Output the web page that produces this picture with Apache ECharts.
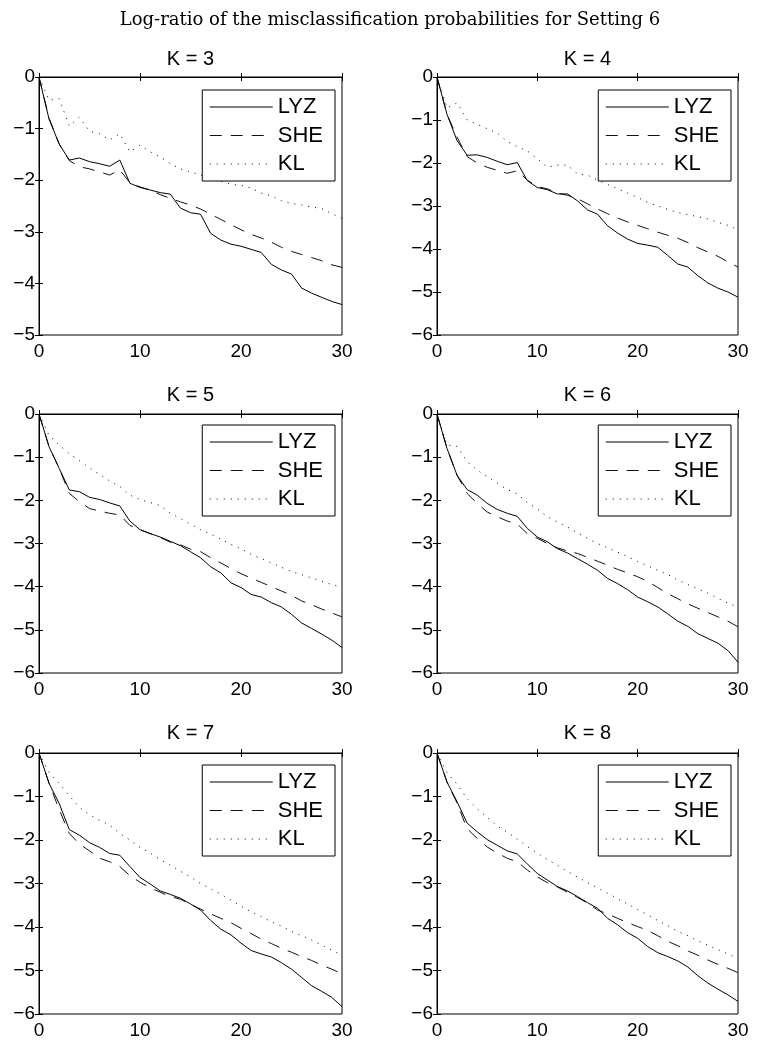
<!DOCTYPE html>
<html>
<head>
<meta charset="utf-8">
<script src="https://cdn.jsdelivr.net/npm/echarts@6/dist/echarts.min.js"></script>
<style>
html,body{margin:0;padding:0;background:#fff;}
#chart{width:762px;height:1049px;}
</style>
</head>
<body>
<div id="chart"></div>
<script>
// ---- data ----
const xs = [0,1,2,3,4,5,6,7,8,9,10,11,12,13,14,15,16,17,18,19,20,21,22,23,24,25,26,27,28,29,30];
const seriesNames = ['LYZ','SHE','KL'];
const kValues = [3,4,5,6,7,8];
const yMins = [-5,-6,-6,-6,-6,-6];
const xTicks = [0,10,20,30];

const lyz3 = [0,-0.82,-1.30,-1.61,-1.57,-1.64,-1.68,-1.73,-1.61,-2.06,-2.14,-2.19,-2.24,-2.27,-2.54,-2.63,-2.66,-3.03,-3.16,-3.24,-3.28,-3.34,-3.40,-3.63,-3.74,-3.82,-4.09,-4.19,-4.27,-4.35,-4.41];
const she3 = [0,-0.80,-1.30,-1.62,-1.74,-1.78,-1.84,-1.90,-1.80,-2.05,-2.13,-2.19,-2.28,-2.35,-2.42,-2.48,-2.56,-2.66,-2.76,-2.86,-2.96,-3.05,-3.12,-3.20,-3.30,-3.38,-3.44,-3.50,-3.56,-3.64,-3.69];
const kl3  = [0,-0.45,-0.42,-0.95,-0.78,-1.05,-1.10,-1.22,-1.10,-1.45,-1.32,-1.45,-1.55,-1.68,-1.78,-1.84,-1.90,-1.96,-2.02,-2.08,-2.10,-2.15,-2.25,-2.30,-2.40,-2.45,-2.48,-2.52,-2.55,-2.65,-2.74];

const lyz4 = [0,-0.87,-1.48,-1.82,-1.81,-1.87,-1.96,-2.04,-1.99,-2.41,-2.57,-2.62,-2.72,-2.72,-2.88,-3.09,-3.19,-3.46,-3.63,-3.77,-3.87,-3.91,-3.96,-4.15,-4.35,-4.42,-4.62,-4.79,-4.91,-5.00,-5.12];
const she4 = [0,-0.87,-1.40,-1.85,-2.00,-2.10,-2.17,-2.24,-2.18,-2.40,-2.55,-2.60,-2.70,-2.75,-2.83,-2.95,-3.07,-3.18,-3.28,-3.37,-3.45,-3.53,-3.61,-3.68,-3.75,-3.85,-3.97,-4.07,-4.17,-4.30,-4.42];
const kl4  = [0,-0.72,-0.60,-1.00,-1.10,-1.20,-1.30,-1.50,-1.62,-1.72,-1.90,-2.10,-2.05,-2.05,-2.25,-2.28,-2.40,-2.50,-2.60,-2.70,-2.80,-2.92,-3.00,-3.08,-3.15,-3.20,-3.25,-3.30,-3.38,-3.45,-3.55];

const lyz5 = [0,-0.76,-1.26,-1.76,-1.80,-1.93,-1.98,-2.06,-2.13,-2.48,-2.68,-2.77,-2.85,-2.95,-3.05,-3.19,-3.33,-3.54,-3.68,-3.91,-4.02,-4.18,-4.24,-4.37,-4.47,-4.64,-4.84,-4.97,-5.10,-5.24,-5.41];
const she5 = [0,-0.76,-1.26,-1.84,-2.03,-2.19,-2.25,-2.30,-2.34,-2.58,-2.68,-2.77,-2.86,-2.97,-3.03,-3.13,-3.19,-3.33,-3.45,-3.58,-3.70,-3.80,-3.90,-4.00,-4.10,-4.20,-4.33,-4.42,-4.52,-4.61,-4.70];
const kl5  = [0,-0.50,-0.72,-0.92,-1.08,-1.25,-1.40,-1.55,-1.68,-1.88,-1.98,-2.05,-2.12,-2.30,-2.42,-2.55,-2.68,-2.78,-2.90,-3.02,-3.12,-3.25,-3.35,-3.45,-3.55,-3.65,-3.72,-3.80,-3.88,-3.95,-4.02];

const lyz6 = [0,-0.80,-1.42,-1.75,-1.88,-2.07,-2.21,-2.30,-2.37,-2.65,-2.85,-2.96,-3.12,-3.22,-3.35,-3.48,-3.62,-3.81,-3.93,-4.07,-4.24,-4.35,-4.47,-4.63,-4.80,-4.92,-5.09,-5.20,-5.31,-5.48,-5.75];
const she6 = [0,-0.80,-1.42,-1.84,-2.07,-2.27,-2.38,-2.48,-2.55,-2.77,-2.88,-3.00,-3.10,-3.17,-3.23,-3.32,-3.41,-3.50,-3.60,-3.68,-3.77,-3.88,-4.02,-4.16,-4.28,-4.40,-4.50,-4.60,-4.70,-4.80,-4.93];
const kl6  = [0,-0.72,-0.75,-1.10,-1.30,-1.45,-1.60,-1.75,-1.85,-2.05,-2.20,-2.38,-2.50,-2.62,-2.75,-2.88,-3.00,-3.10,-3.20,-3.30,-3.42,-3.52,-3.62,-3.72,-3.85,-3.95,-4.05,-4.15,-4.27,-4.38,-4.48];

const lyz7 = [0,-0.70,-1.16,-1.76,-1.89,-2.06,-2.17,-2.31,-2.35,-2.61,-2.86,-3.01,-3.17,-3.25,-3.34,-3.47,-3.61,-3.85,-4.05,-4.18,-4.37,-4.54,-4.62,-4.69,-4.82,-4.97,-5.16,-5.35,-5.48,-5.62,-5.83];
const she7 = [0,-0.70,-1.30,-1.85,-2.09,-2.25,-2.42,-2.50,-2.61,-2.82,-2.97,-3.10,-3.20,-3.30,-3.36,-3.48,-3.59,-3.70,-3.80,-3.90,-4.03,-4.15,-4.28,-4.38,-4.49,-4.58,-4.68,-4.77,-4.88,-4.97,-5.08];
const kl7  = [0,-0.45,-0.70,-0.98,-1.25,-1.42,-1.55,-1.66,-1.85,-2.00,-2.17,-2.30,-2.45,-2.58,-2.72,-2.85,-3.00,-3.12,-3.25,-3.38,-3.52,-3.65,-3.76,-3.88,-3.98,-4.10,-4.20,-4.30,-4.42,-4.53,-4.65];

const lyz8 = [0,-0.67,-1.12,-1.61,-1.81,-1.99,-2.12,-2.25,-2.32,-2.55,-2.77,-2.92,-3.07,-3.17,-3.30,-3.44,-3.57,-3.80,-3.95,-4.13,-4.26,-4.45,-4.59,-4.68,-4.78,-4.92,-5.12,-5.29,-5.43,-5.56,-5.71];
const she8 = [0,-0.67,-1.15,-1.74,-1.96,-2.16,-2.30,-2.42,-2.50,-2.69,-2.85,-2.98,-3.08,-3.20,-3.32,-3.45,-3.61,-3.70,-3.80,-3.90,-3.99,-4.08,-4.20,-4.33,-4.43,-4.55,-4.65,-4.76,-4.86,-4.95,-5.05];
const kl8  = [0,-0.45,-0.72,-1.05,-1.28,-1.48,-1.68,-1.82,-1.98,-2.15,-2.30,-2.45,-2.58,-2.72,-2.85,-2.98,-3.10,-3.22,-3.35,-3.47,-3.60,-3.72,-3.85,-3.97,-4.10,-4.20,-4.32,-4.42,-4.52,-4.62,-4.72];

const panelData = [
  [lyz3, she3, kl3],
  [lyz4, she4, kl4],
  [lyz5, she5, kl5],
  [lyz6, she6, kl6],
  [lyz7, she7, kl7],
  [lyz8, she8, kl8]
];

// ---- layout ----
const colLeft = [39, 437];
const colWidth = [303, 301];
const rowTop = [77, 414, 753];
const rowHeight = [258, 259, 261];
const legendRight = [427, 31];
const legendTop = [90, 425, 765];
const titleTop = [49, 385, 723];

const SANS = 'Liberation Sans, Arial, Helvetica, sans-serif';
const lineStyles = [
  {color: '#000', width: 1, type: 'solid'},
  {color: '#111', width: 1, type: [12, 9]},
  {color: '#000', width: 1, type: [1, 6]}
];

const fmtMinus = v => (v < 0 ? '\u2212' + Math.abs(v) : String(v));

const grids = [], xAxes = [], yAxes = [], series = [], titles = [], legends = [];

titles.push({
  text: 'Log-ratio of the misclassification probabilities for Setting 6',
  left: 390, top: 11, textAlign: 'center', padding: 0,
  textStyle: {fontFamily: 'DejaVu Serif, serif', fontWeight: 'normal', fontSize: 18, color: '#000'}
});

for (let i = 0; i < 6; i++) {
  const c = i % 2, r = Math.floor(i / 2);
  grids.push({left: colLeft[c], top: rowTop[r], width: colWidth[c], height: rowHeight[r],
    show: true, borderColor: '#000', borderWidth: 1, backgroundColor: '#fff', containLabel: false});
  titles.push({
    text: 'K = ' + kValues[i],
    left: colLeft[c] + colWidth[c] / 2, top: titleTop[r], textAlign: 'center', padding: 0,
    textStyle: {fontFamily: SANS, fontWeight: 'normal', fontSize: 20, color: '#000'}
  });
  const axisCommon = {
    axisLine: {show: true, lineStyle: {color: '#000', width: 1}},
    axisTick: {show: true, inside: true, length: 4, lineStyle: {color: '#000', width: 1}},
    splitLine: {show: false}
  };
  xAxes.push(Object.assign({
    type: 'value', gridIndex: i, min: 0, max: 30, interval: 10, position: 'bottom',
    axisLabel: {fontFamily: SANS, fontSize: 19, color: '#000', margin: 7,
      customValues: xTicks, formatter: fmtMinus}
  }, axisCommon));
  yAxes.push(Object.assign({
    type: 'value', gridIndex: i, min: yMins[i], max: 0, interval: 1, position: 'left',
    axisLabel: {fontFamily: SANS, fontSize: 19, color: '#000', margin: 4, padding: [6, 0, 0, 0], formatter: fmtMinus}
  }, axisCommon));
  legends.push({
    data: seriesNames, orient: 'vertical', right: legendRight[c], top: legendTop[r],
    itemWidth: 63, itemHeight: 14, itemGap: 6.5, padding: [6, 12, 6, 7],
    borderColor: '#000', borderWidth: 1, backgroundColor: '#fff', borderRadius: 0,
    selectedMode: false,
    itemStyle: {color: 'rgba(0,0,0,0)', borderWidth: 0, opacity: 0},
    lineStyle: {width: 1},
    textStyle: {fontFamily: SANS, fontSize: 22, lineHeight: 22, color: '#000'}
  });
  for (let s = 0; s < 3; s++) {
    const vals = panelData[i][s];
    series.push({
      name: seriesNames[s], type: 'line', xAxisIndex: i, yAxisIndex: i,
      data: xs.map((x, j) => [x, vals[j]]),
      symbol: 'none', showSymbol: false, smooth: false, silent: true,
      itemStyle: {color: '#000'},
      lineStyle: lineStyles[s], z: 3 - s
    });
  }
}
// mirrored axes (ticks on top and right, MATLAB box style)
for (let i = 0; i < 6; i++) {
  xAxes.push({
    type: 'value', gridIndex: i, min: 0, max: 30, interval: 10, position: 'top',
    axisLine: {show: true, lineStyle: {color: '#000', width: 1}},
    axisTick: {show: true, inside: true, length: 4, lineStyle: {color: '#000', width: 1}},
    axisLabel: {show: false}, splitLine: {show: false}
  });
  yAxes.push({
    type: 'value', gridIndex: i, min: yMins[i], max: 0, interval: 1, position: 'right',
    axisLine: {show: true, lineStyle: {color: '#000', width: 1}},
    axisTick: {show: true, inside: true, length: 4, lineStyle: {color: '#000', width: 1}},
    axisLabel: {show: false}, splitLine: {show: false}
  });
}

const chart = echarts.init(document.getElementById('chart'), null, {renderer: 'canvas'});
chart.setOption({
  animation: false,
  backgroundColor: '#fff',
  title: titles,
  legend: legends,
  grid: grids,
  xAxis: xAxes,
  yAxis: yAxes,
  series: series
});
</script>
</body>
</html>
